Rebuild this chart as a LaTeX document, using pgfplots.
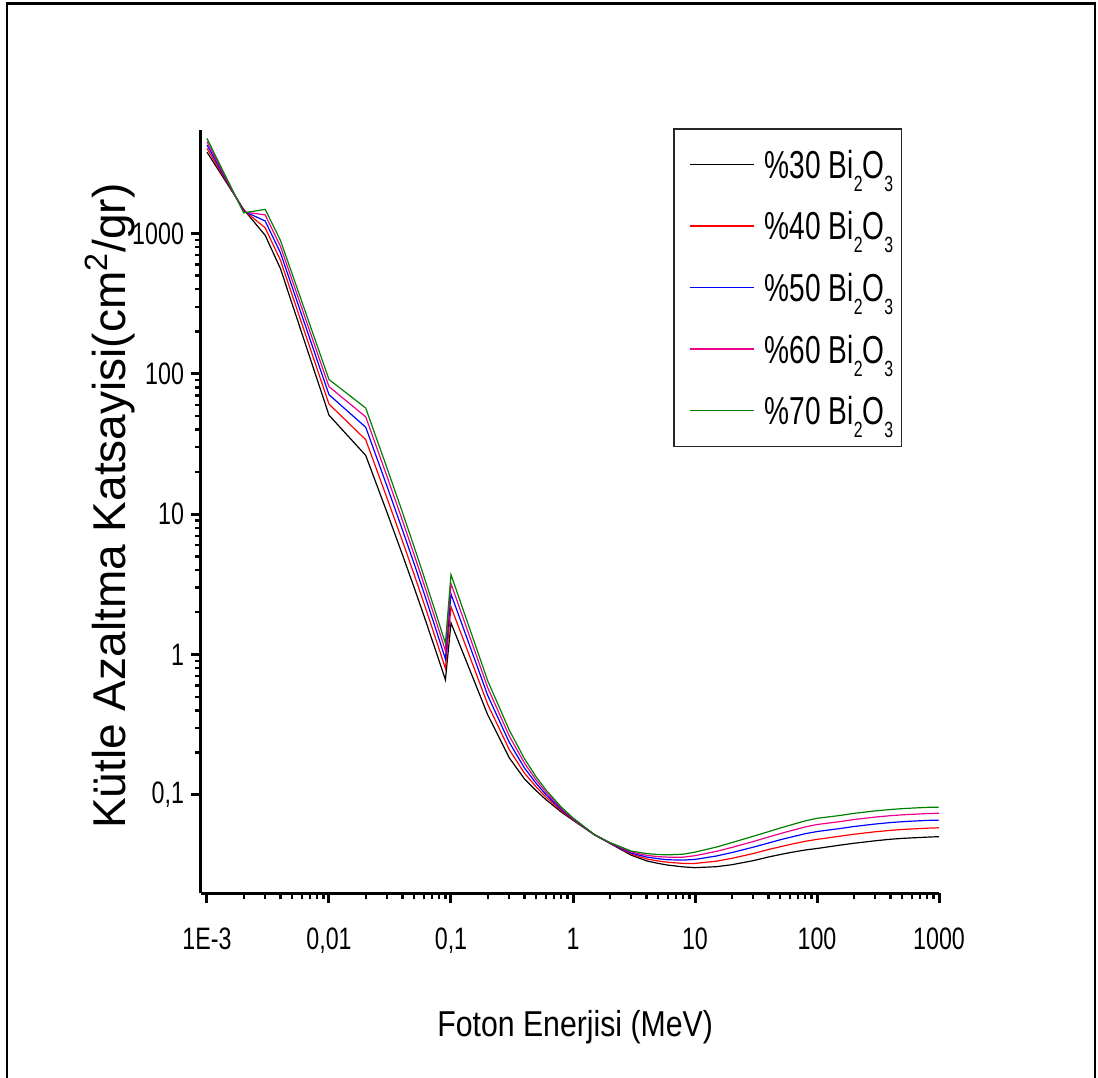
\documentclass[border=0pt]{standalone}
\usepackage{pgfplots}
\pgfplotsset{compat=1.18}
\usepackage{pgfplotstable}
\usepackage{fontspec}
\setmainfont{Liberation Sans}
\newfontfamily\tickfont[FakeStretch=0.75]{Liberation Sans}
\newfontfamily\legfont[FakeStretch=0.72]{Liberation Sans}
\newfontfamily\xlabfont[FakeStretch=0.84]{Liberation Sans}
\definecolor{cgreen}{RGB}{0,128,0}
\newcommand{\lsub}[1]{\raisebox{-6.5pt}{\fontsize{11}{11}\selectfont #1}}

\pgfplotstableread{
E s30 s40 s50 s60 s70
0.001 3790 4029 4268 4506 4745
0.002 1480 1460 1440 1420 1400
0.003 968 1096 1225 1354 1482
0.004 561 644 727 809 892
0.01 50.7 60.8 70.9 80.9 91
0.02 26.2 33.9 41.6 49.3 57
0.03 10.2 12.9 15.65 18.4 21.1
0.04 5.14 6.43 7.72 9.01 10.3
0.05 2.98 3.69 4.40 5.10 5.81
0.06 1.89 2.32 2.75 3.17 3.60
0.08 0.90 1.09 1.28 1.47 1.66
0.09 0.66 0.795 0.93 1.065 1.20
0.1 1.68 2.19 2.70 3.20 3.71
0.2 0.372 0.4415 0.511 0.5805 0.650
0.3 0.184 0.2105 0.237 0.2635 0.290
0.4 0.130 0.1428 0.1555 0.1683 0.181
0.5 0.107 0.1138 0.1205 0.1273 0.134
0.6 0.0925 0.0965 0.1005 0.1045 0.1085
0.8 0.0756 0.0772 0.0788 0.0804 0.0820
1 0.0660 0.0666 0.0673 0.0679 0.0685
1.5 0.0519 0.0520 0.0520 0.0521 0.0521
2 0.0452 0.0454 0.0455 0.0457 0.0458
3 0.0372 0.0379 0.0385 0.0392 0.0398
4 0.0339 0.0350 0.0361 0.0371 0.0382
5 0.0325 0.0338 0.0351 0.0363 0.0376
6 0.0316 0.0331 0.0345 0.0360 0.0374
8 0.0307 0.0325 0.0343 0.0360 0.0378
10 0.0303 0.0325 0.0347 0.0369 0.0391
15 0.0308 0.0337 0.0367 0.0396 0.0425
20 0.0318 0.0353 0.0388 0.0422 0.0457
30 0.0340 0.0382 0.0424 0.0465 0.0507
40 0.0361 0.0408 0.0454 0.0501 0.0547
50 0.0376 0.0427 0.0479 0.0530 0.0581
60 0.0388 0.0443 0.0498 0.0553 0.0608
80 0.0405 0.0467 0.0529 0.0591 0.0653
100 0.0415 0.0482 0.0548 0.0615 0.0681
150 0.0437 0.0506 0.0574 0.0643 0.0711
200 0.0452 0.0524 0.0595 0.0667 0.0738
300 0.0471 0.0546 0.0620 0.0695 0.0769
400 0.0483 0.0559 0.0635 0.0711 0.0787
500 0.0490 0.0567 0.0644 0.0721 0.0798
600 0.0494 0.0572 0.0650 0.0727 0.0805
800 0.0500 0.0579 0.0658 0.0736 0.0815
1000 0.0504 0.0583 0.0661 0.0740 0.0818
}\datatable

\begin{document}
\begin{tikzpicture}
\useasboundingbox (0,0) rectangle (549pt,538.5pt);
\draw[line width=1.2pt] (3.5pt,-5pt) -- (3.5pt,536.8pt) -- (547.5pt,536.8pt) -- (547.5pt,-5pt);
\begin{axis}[
  at={(100.5pt,92pt)}, anchor=south west,
  scale only axis, width=369pt, height=381.5pt,
  xmode=log, ymode=log,
  xmin=8.93e-4, xmax=1000, ymin=0.02, ymax=5450,
  axis x line*=bottom, axis y line*=left,
  axis line style={-, line width=1.5pt},
  tick align=outside,
  major tick length=5pt, minor tick length=3pt,
  major tick style={black, line width=1.5pt},
  minor tick style={black, line width=1.2pt},
  xtick={0.001,0.01,0.1,1,10,100,1000},
  xticklabels={1E-3,{0,01},{0,1},1,10,100,1000},
  ytick={0.1,1,10,100,1000},
  yticklabels={{0,1},1,10,100,1000},
  ticklabel style={font=\tickfont\fontsize{15.5}{17}\selectfont},
  xticklabel style={yshift=-9pt},
  xlabel={Foton Enerjisi (MeV)},
  xlabel style={font=\xlabfont\fontsize{18}{20}\selectfont, at={(axis description cs:0.507,-0.1756)}, anchor=center},
  ylabel={Kütle Azaltma Katsayisi(cm\textsuperscript{2}/gr)},
  ylabel style={font=\fontsize{23}{26}\selectfont, at={(axis description cs:-0.1230,0.507)}, anchor=center},
  legend style={at={(axis description cs:0.640,1.0022)}, anchor=north west,
    draw=black!85, line width=0.6pt, fill=white, inner xsep=4pt, inner ysep=2.3pt,
    font=\legfont\fontsize{19.5}{22}\selectfont, row sep=0pt,
    nodes={inner xsep=0pt, inner ysep=8.4pt, text height=14pt, text depth=0pt}},
  legend cell align=left,
  legend image code/.code={\path (0pt,0pt); \draw[#1,line width=0.75pt] (3.8pt,0pt) -- (35.8pt,0pt);},
  /tikz/every odd column/.append style={column sep=5pt},
]
\addplot[black, line width=0.6pt, no marks] table[x=E,y=s30] {\datatable};
\addlegendentry{\%30 Bi\lsub{2}O\lsub{3}}
\addplot[red, line width=0.6pt, no marks] table[x=E,y=s40] {\datatable};
\addlegendentry{\%40 Bi\lsub{2}O\lsub{3}}
\addplot[blue, line width=0.6pt, no marks] table[x=E,y=s50] {\datatable};
\addlegendentry{\%50 Bi\lsub{2}O\lsub{3}}
\addplot[magenta, line width=0.6pt, no marks] table[x=E,y=s60] {\datatable};
\addlegendentry{\%60 Bi\lsub{2}O\lsub{3}}
\addplot[cgreen, line width=0.6pt, no marks] table[x=E,y=s70] {\datatable};
\addlegendentry{\%70 Bi\lsub{2}O\lsub{3}}
\end{axis}
\end{tikzpicture}
\end{document}
